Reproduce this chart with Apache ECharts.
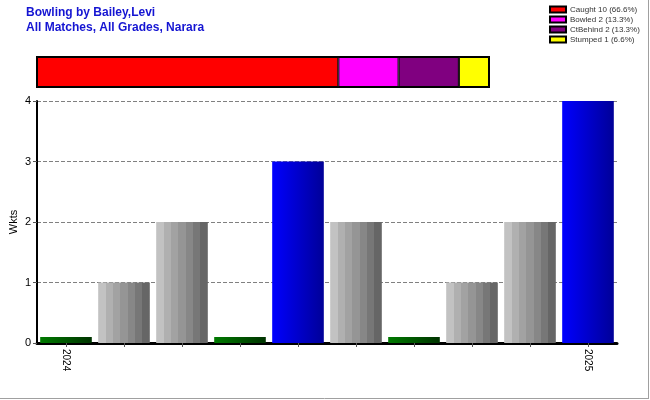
<!DOCTYPE html>
<html><head><meta charset="utf-8">
<script src="https://cdn.jsdelivr.net/npm/echarts@6/dist/echarts.min.js"></script>
<style>html,body{margin:0;padding:0;background:#fff}#c{width:650px;height:400px}</style>
</head><body><div id="c"></div>
<script>
// Main chart data
const categories = ['2024','','','','','','','','','2025'];
const wickets = [0.1, 1, 2, 0.1, 3, 2, 0.1, 1, 2, 4];
const barKinds = ['none','match','match','none','season','match','none','match','match','season'];
const yTicks = [0, 1, 2, 3, 4];
// Dismissal breakdown
const dismissalNames = ['Caught','Bowled','CtBehind','Stumped'];
const dismissalCounts = [10, 2, 2, 1];
const dismissalPct = ['66.6%','13.3%','13.3%','6.6%'];
const dismissalColors = ['#ff0000','#ff00ff','#800080','#ffff00'];

function stripes(cols){
  const stops=[]; const n=cols.length;
  cols.forEach((c,i)=>{stops.push({offset:i/n,color:c});stops.push({offset:(i+1)/n-0.0001,color:c});});
  return {type:'linear',x:0,y:0,x2:1,y2:0,colorStops:stops};
}
const fills = {
  match: stripes(['#c2c2c2','#b0b0b0','#a2a2a2','#959595','#878787','#777777','#666666']),
  season: {type:'linear',x:0,y:0,x2:1,y2:0,colorStops:[{offset:0,color:'#0000ff'},{offset:1,color:'#000098'}]},
  none: {type:'linear',x:0,y:0,x2:1,y2:0,colorStops:[{offset:0,color:'#007a00'},{offset:1,color:'#003300'}]}
};

const total = dismissalCounts.reduce((a,b)=>a+b,0);
const topSeries = dismissalNames.map((n,i)=>({
  name: n+' '+dismissalCounts[i]+' ('+dismissalPct[i]+')',
  type:'bar', stack:'d', xAxisIndex:1, yAxisIndex:1, barWidth:'100%',
  data:[dismissalCounts[i]],
  itemStyle:{color:dismissalColors[i], borderColor:'#000', borderWidth:1},
  silent:true
}));

const chart = echarts.init(document.getElementById('c'), null, {renderer:'canvas'});
chart.setOption({
  animation:false,
  textStyle:{fontFamily:'Liberation Sans, Arial, sans-serif'},
  title:{text:'Bowling by Bailey,Levi\nAll Matches, All Grades, Narara', left:26, top:5, padding:0,
    textStyle:{fontSize:12, fontWeight:'bold', color:'#1414d2', lineHeight:15}},
  legend:{orient:'vertical', left:549, top:5, padding:0, itemWidth:16, itemHeight:6, itemGap:1,
    icon:'rect', textStyle:{fontSize:8, color:'#333', padding:[0,0,0,-1], lineHeight:9},
    data: topSeries.map(s=>s.name)},
  graphic:[
    {type:'line', shape:{x1:648.5,y1:0,x2:648.5,y2:399}, style:{stroke:'#a0a0a0',lineWidth:1}},
    {type:'line', shape:{x1:0,y1:398.5,x2:649,y2:398.5}, style:{stroke:'#a0a0a0',lineWidth:1}}
  ],
  grid:[
    {left:37, right:33, top:101, bottom:57, containLabel:false, outerBoundsMode:'none'},
    {left:37, top:57, width:452, height:30, show:true, borderColor:'#000', borderWidth:2, outerBoundsMode:'none'}
  ],
  xAxis:[
    {type:'category', data:categories, gridIndex:0,
      axisLine:{lineStyle:{color:'#000', width:3}},
      axisTick:{show:true, interval:0, alignWithLabel:true, length:4, lineStyle:{color:'#555'}},
      axisLabel:{interval:0, rotate:-90, fontSize:10, color:'#000', margin:6}},
    {type:'value', gridIndex:1, min:0, max:total, show:false}
  ],
  yAxis:[
    {type:'value', gridIndex:0, min:yTicks[0], max:yTicks[yTicks.length-1], interval:1,
      name:'Wkts', nameLocation:'middle', nameGap:18, nameMoveOverlap:false,
      nameTextStyle:{fontSize:11, color:'#000'},
      axisLine:{show:true, lineStyle:{color:'#000', width:2}},
      axisTick:{show:true, length:4, lineStyle:{color:'#555'}},
      axisLabel:{fontSize:11, color:'#000', margin:6},
      splitLine:{lineStyle:{type:'dashed', color:'#808080', width:1}}},
    {type:'category', gridIndex:1, data:['a'], show:false}
  ],
  series:[
    {type:'bar', xAxisIndex:0, yAxisIndex:0, barCategoryGap:'11%',
      data: wickets.map((v,i)=>({value:v, itemStyle:{color:fills[barKinds[i]]}})),
      silent:true}
  ].concat(topSeries)
});
</script></body></html>
